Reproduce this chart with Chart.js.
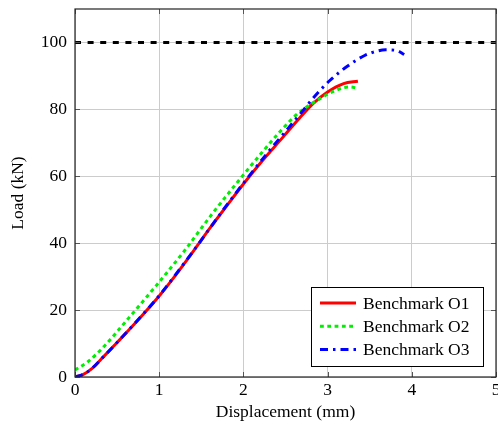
<!DOCTYPE html>
<html>
<head>
<meta charset="utf-8">
<script src="https://cdn.jsdelivr.net/npm/chart.js@4.4.0/dist/chart.umd.min.js"></script>
<style>
  html, body { margin: 0; padding: 0; background: #fff; }
  #wrap { width: 498px; height: 427px; }
</style>
</head>
<body>
<div id="wrap"><canvas id="myChart" width="498" height="427"></canvas></div>
<script>
// Benchmark O1 (red, solid)
let o1X = [0, 0.1, 0.2, 0.34, 0.5, 0.73, 1.0, 1.2, 1.4, 1.6, 1.8, 2.0, 2.2, 2.47, 2.67, 2.83, 3.0, 3.19, 3.36];
let o1Y = [0, 0.8, 2.5, 6.1, 10.3, 16.5, 24.2, 30.6, 37.4, 44.4, 51.1, 57.7, 63.9, 71.7, 77.5, 81.8, 85.2, 87.7, 88.4];
// Benchmark O2 (green, dotted)
let o2X = [0, 0.15, 0.34, 0.6, 1.0, 1.29, 1.6, 1.98, 2.2, 2.43, 2.63, 2.75, 2.91, 3.07, 3.2, 3.27, 3.36];
let o2Y = [2.1, 4.5, 9.0, 16.5, 28.4, 37.4, 47.8, 59.8, 66.5, 73.2, 78.4, 80.7, 83.2, 85.4, 86.5, 86.7, 86.2];
// Benchmark O3 (blue, dash-dot)
let o3X = [0, 0.1, 0.2, 0.34, 0.5, 0.73, 1.0, 1.4, 1.8, 2.0, 2.3, 2.53, 2.71, 2.85, 3.03, 3.23, 3.44, 3.6, 3.69, 3.82, 3.91];
let o3Y = [0, 0.8, 2.5, 6.1, 10.3, 16.6, 24.3, 37.5, 51.3, 57.9, 67.4, 74.3, 79.7, 84.0, 88.7, 92.8, 96.1, 97.5, 97.8, 97.6, 96.4];
// reference load level
let refX = [0, 5];
let refY = [100, 100];

let xTicks = [0, 1, 2, 3, 4, 5];
let yTicks = [0, 20, 40, 60, 80, 100];

function pts(xs, ys){
  return xs.map(function(x, i){ return {x: x, y: ys[i]}; });
}

let serif = "'Liberation Serif', 'DejaVu Serif', serif";
let fsize = 17.5;

// legend drawn inside the plot, lower right
let boxLegend = {
  id: 'boxLegend',
  afterDraw: function(chart){
    let ctx = chart.ctx;
    let items = chart.data.datasets.filter(function(d){ return d.label; });
    let x0 = 311, y0 = 287, w = 172, h = 79;
    ctx.save();
    ctx.fillStyle = '#fff';
    ctx.fillRect(x0, y0, w, h);
    ctx.strokeStyle = '#000';
    ctx.lineWidth = 1;
    ctx.strokeRect(x0 + 0.5, y0 + 0.5, w, h);
    items.forEach(function(d, i){
      let y = y0 + 16 + i * 23.3;
      ctx.beginPath();
      ctx.setLineDash(d.borderDash || []);
      ctx.strokeStyle = d.borderColor;
      ctx.lineWidth = d.borderWidth;
      ctx.moveTo(320, y);
      ctx.lineTo(356, y);
      ctx.stroke();
      ctx.setLineDash([]);
      ctx.fillStyle = '#000';
      ctx.font = fsize + 'px ' + serif;
      ctx.textBaseline = 'middle';
      ctx.fillText(d.label, 363, y + 1);
    });
    ctx.restore();
  }
};

// small inward ticks on all four sides, like the original plot
let innerTicks = {
  id: 'innerTicks',
  afterDatasetsDraw: function(chart){
    let ctx = chart.ctx;
    let a = chart.chartArea;
    let sx = chart.scales.x, sy = chart.scales.y;
    ctx.save();
    ctx.strokeStyle = '#555';
    ctx.lineWidth = 1;
    ctx.beginPath();
    xTicks.forEach(function(v){
      let px = Math.round(sx.getPixelForValue(v)) + 0.5;
      ctx.moveTo(px, a.bottom); ctx.lineTo(px, a.bottom - 5);
      ctx.moveTo(px, a.top); ctx.lineTo(px, a.top + 5);
    });
    yTicks.forEach(function(v){
      let py = Math.round(sy.getPixelForValue(v)) + 0.5;
      ctx.moveTo(a.left, py); ctx.lineTo(a.left + 5, py);
      ctx.moveTo(a.right, py); ctx.lineTo(a.right - 5, py);
    });
    ctx.stroke();
    ctx.lineWidth = 1.2;
    ctx.strokeStyle = '#222';
    ctx.strokeRect(a.left, a.top, a.right - a.left, a.bottom - a.top);
    ctx.restore();
  }
};

let ctx = document.getElementById("myChart");
let chart = new Chart(ctx, {
  type: 'line',
  data: {
    datasets: [
      {
        data: pts(refX, refY),
        borderColor: '#000',
        borderWidth: 3,
        borderDash: [6, 6.6],
        pointRadius: 0,
        tension: 0,
        order: 0
      },
      {
        label: 'Benchmark O1',
        data: pts(o1X, o1Y),
        borderColor: '#ff0000',
        borderWidth: 3,
        pointRadius: 0,
        cubicInterpolationMode: 'monotone',
        order: 3
      },
      {
        label: 'Benchmark O2',
        data: pts(o2X, o2Y),
        borderColor: '#00ee00',
        borderWidth: 3,
        borderDash: [3.8, 3.5],
        pointRadius: 0,
        cubicInterpolationMode: 'monotone',
        order: 2
      },
      {
        label: 'Benchmark O3',
        data: pts(o3X, o3Y),
        borderColor: '#0000ff',
        borderWidth: 3,
        borderDash: [8, 5, 2.5, 5],
        pointRadius: 0,
        cubicInterpolationMode: 'monotone',
        order: 1
      }
    ]
  },
  options: {
    responsive: false,
    animation: false,
    layout: { padding: { left: 0, right: 2, top: 9, bottom: 0 } },
    plugins: {
      legend: { display: false },
      tooltip: { enabled: false }
    },
    scales: {
      x: {
        type: 'linear',
        min: 0,
        max: 5,
        afterBuildTicks: function(s){ s.ticks = xTicks.map(function(v){ return {value: v}; }); },
        afterFit: function(s){ s.height = 50; s.paddingLeft = 0; s.paddingRight = 0; },
        grid: { color: '#cccccc', lineWidth: 1, drawTicks: false },
        border: { display: false },
        ticks: {
          color: '#000',
          padding: 3,
          font: { family: serif, size: fsize }
        },
        title: {
          display: true,
          text: 'Displacement (mm)',
          color: '#000',
          padding: { top: 0, bottom: 4.5 },
          font: { family: serif, size: fsize }
        }
      },
      y: {
        min: 0,
        max: 110,
        afterBuildTicks: function(s){ s.ticks = yTicks.map(function(v){ return {value: v}; }); },
        afterFit: function(s){ s.width = 75; s.paddingTop = 0; s.paddingBottom = 0; },
        grid: { color: '#cccccc', lineWidth: 1, drawTicks: false },
        border: { display: false },
        ticks: {
          color: '#000',
          padding: 8,
          font: { family: serif, size: fsize }
        },
        title: {
          display: true,
          text: 'Load (kN)',
          color: '#000',
          padding: { top: 8, bottom: 0 },
          font: { family: serif, size: fsize }
        }
      }
    }
  },
  plugins: [innerTicks, boxLegend]
});
</script>
</body>
</html>
